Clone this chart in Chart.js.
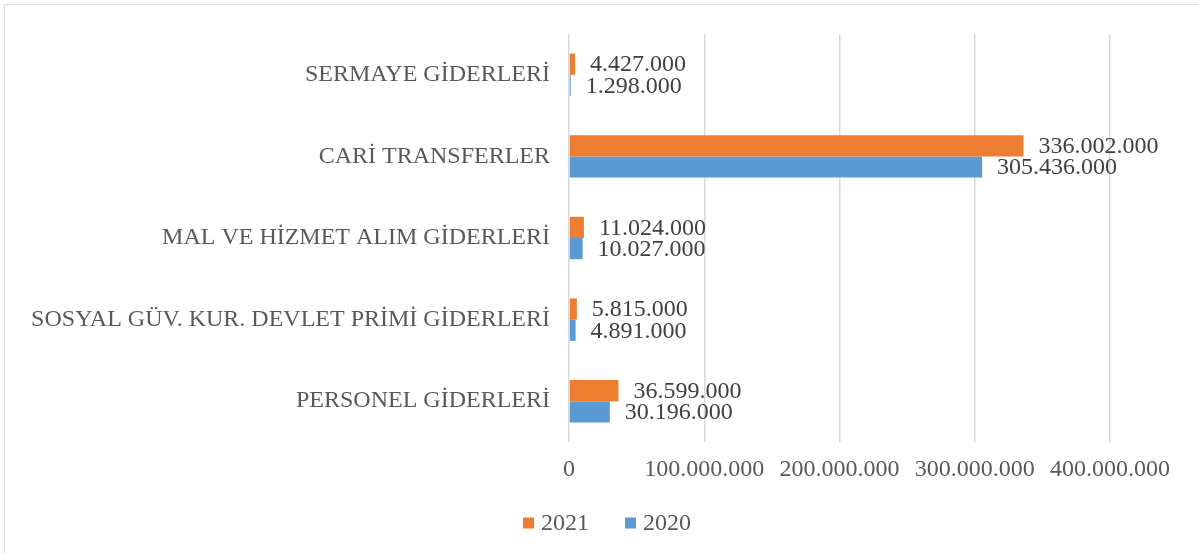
<!DOCTYPE html>
<html lang="tr">
<head>
    <meta charset="UTF-8">
    <title>Giderler 2020-2021</title>
    <script src="https://cdn.jsdelivr.net/npm/chart.js"></script>
    <style>
        body { margin: 0; background: #fff; }
        #frame {
            position: absolute; left: 4px; top: 4px;
            border-left: 1px solid #d9d9d9; border-top: 1px solid #d9d9d9;
        }
        #box { position: relative; width: 1193px; height: 548px; }
    </style>
</head>
<body>
    <div id="frame"><div id="box"><canvas id="giderChart"></canvas></div></div>
    <script>
        const categories = [
            "SERMAYE GİDERLERİ",
            "CARİ TRANSFERLER",
            "MAL VE HİZMET ALIM GİDERLERİ",
            "SOSYAL GÜV. KUR. DEVLET PRİMİ GİDERLERİ",
            "PERSONEL GİDERLERİ"
        ];
        const values2021 = [4427000, 336002000, 11024000, 5815000, 36599000];
        const values2020 = [1298000, 305436000, 10027000, 4891000, 30196000];
        const xTicks = [0, 100000000, 200000000, 300000000, 400000000];

        const FONT = "'Liberation Serif', 'Times New Roman', serif";
        const ORANGE = "#ED7D31";
        const BLUE = "#5B9BD5";

        function fmt(v) {
            return String(v).replace(/\B(?=(\d{3})+(?!\d))/g, ".");
        }

        // value labels at the end of each bar
        const barLabels = {
            id: "barLabels",
            afterDatasetsDraw(chart) {
                const ctx = chart.ctx;
                ctx.save();
                ctx.font = "24px " + FONT;
                ctx.fillStyle = "#404040";
                ctx.textAlign = "left";
                ctx.textBaseline = "middle";
                chart.data.datasets.forEach((ds, i) => {
                    chart.getDatasetMeta(i).data.forEach((el, j) => {
                        ctx.fillText(fmt(ds.data[j]), el.x + 15, el.y + 1);
                    });
                });
                ctx.restore();
            }
        };

        // legend drawn by hand so the spacing matches
        const bottomLegend = {
            id: "bottomLegend",
            afterDraw(chart) {
                const ctx = chart.ctx;
                ctx.save();
                ctx.font = "24px " + FONT;
                ctx.textBaseline = "middle";
                const box = 11, gap = 7, spacing = 36;
                const items = chart.data.datasets.map(ds => ({
                    text: ds.label, color: ds.backgroundColor,
                    w: box + gap + ctx.measureText(ds.label).width
                }));
                const total = items.reduce((s, it) => s + it.w, 0) + spacing * (items.length - 1);
                let x = 602 - total / 2;
                const y = 518;
                items.forEach(it => {
                    ctx.fillStyle = it.color;
                    ctx.fillRect(x, y - box / 2, box, box);
                    ctx.fillStyle = "#595959";
                    ctx.fillText(it.text, x + box + gap, y + 1);
                    x += it.w + spacing;
                });
                ctx.restore();
            }
        };

        new Chart(document.getElementById("giderChart"), {
            type: "bar",
            data: {
                labels: categories,
                datasets: [
                    { label: "2021", data: values2021, backgroundColor: ORANGE },
                    { label: "2020", data: values2020, backgroundColor: BLUE }
                ]
            },
            options: {
                indexAxis: "y",
                responsive: true,
                maintainAspectRatio: false,
                animation: false,
                categoryPercentage: 0.52,
                barPercentage: 1,
                layout: { padding: { top: 29, right: 88, left: 0, bottom: 0 } },
                plugins: {
                    legend: { display: false },
                    tooltip: { enabled: false }
                },
                scales: {
                    x: {
                        min: 0,
                        max: 400000000,
                        afterBuildTicks: s => { s.ticks = xTicks.map(v => ({ value: v })); },
                        afterFit: s => { s.height = 111; },
                        grid: { color: "#d9d9d9", lineWidth: 1.5, drawTicks: false },
                        border: { display: false },
                        ticks: {
                            padding: 13,
                            color: "#595959",
                            font: { family: FONT, size: 24 },
                            callback: v => fmt(v)
                        }
                    },
                    y: {
                        afterFit: s => { s.width = 564; },
                        grid: { display: false },
                        border: { display: false },
                        ticks: {
                            padding: 11,
                            color: "#595959",
                            font: { family: FONT, size: 24 }
                        }
                    }
                }
            },
            plugins: [barLabels, bottomLegend]
        });
    </script>
</body>
</html>
